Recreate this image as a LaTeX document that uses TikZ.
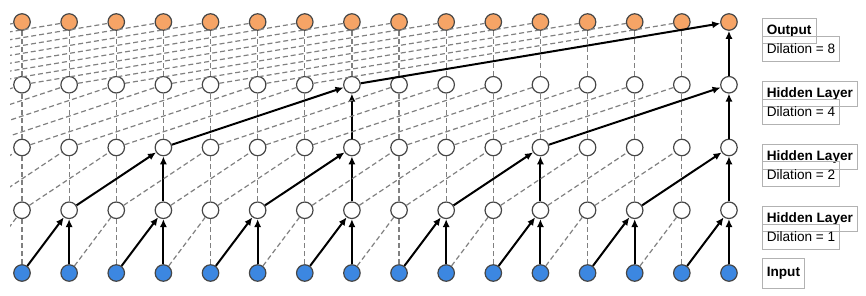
\documentclass[tikz,border=0pt]{standalone}
\usepackage{fontspec}
\setmainfont{Liberation Sans}
\usepackage{tikz}
\usetikzlibrary{arrows.meta, positioning}

\definecolor{outorange}{RGB}{246,164,102}
\definecolor{inblue}{RGB}{60,135,225}
\definecolor{rimgray}{RGB}{70,70,70}

\begin{document}
\begin{tikzpicture}[
    x=0.5pt, y=-0.5pt,
    unit/.style={circle, draw=rimgray, line width=0.6pt, minimum size=8.25pt, inner sep=0pt, fill=white},
    inunit/.style={unit, fill=inblue},
    outunit/.style={unit, fill=outorange},
    link/.style={gray, line width=0.6pt, dash pattern=on 2.5pt off 1.5pt},
    arrow/.style={-{Latex[length=4pt, width=3.6pt]}, line width=1pt},
    tag/.style={rectangle, draw=gray!60, inner xsep=2.3pt, inner ysep=0pt, minimum height=12.5pt, font=\fontsize{6.8}{8}\selectfont},
    headtag/.style={tag, font=\fontsize{6.8}{8}\selectfont\bfseries}
]
\useasboundingbox (0,0) rectangle (866,295);
% units, columns below 0 are only coordinates off the left edge
\foreach \rowname/\lay/\kind in {in/0/inunit, h1/1/unit, h2/2/unit, h3/3/unit, out/4/outunit} {
  \foreach \col in {-8,...,15} {
    \pgfmathsetmacro{\ux}{22+47.13*\col}
    \pgfmathsetmacro{\uy}{273-62.75*\lay}
    \ifnum\col<0
      \coordinate (\rowname-\col) at (\ux,\uy);
    \else
      \node[\kind] (\rowname-\col) at (\ux,\uy) {};
    \fi
  }
}
% connections, solid where they feed out-15
\begin{scope}
\clip (10,0) rectangle (866,295);
\foreach \low/\up/\dil in {in/h1/1, h1/h2/2, h2/h3/4, h3/out/8} {
  \foreach \col in {0,...,15} {
    \pgfmathtruncatemacro{\src}{\col-\dil}
    \pgfmathtruncatemacro{\hit}{mod(\col+1,2*\dil)}
    \ifnum\hit=0
      \draw[arrow] (\low-\src) -- (\up-\col);
      \draw[arrow] (\low-\col) -- (\up-\col);
    \else
      \draw[link] (\low-\src) -- (\up-\col);
      \draw[link] (\low-\col) -- (\up-\col);
    \fi
  }
}
\end{scope}
% layer tags
\node[headtag, right=12pt of out-15, yshift=-4.5pt] (outname) {Output};
\node[tag, below right=-4pt and 0pt of outname.south west] (outdil) {Dilation = 8};
\node[headtag, right=12pt of h3-15, yshift=-4.5pt] (h3name) {Hidden Layer};
\node[tag, below right=-4pt and 0pt of h3name.south west] (h3dil) {Dilation = 4};
\node[headtag, right=12pt of h2-15, yshift=-4.5pt] (h2name) {Hidden Layer};
\node[tag, below right=-4pt and 0pt of h2name.south west] (h2dil) {Dilation = 2};
\node[headtag, right=12pt of h1-15, yshift=-4.5pt] (h1name) {Hidden Layer};
\node[tag, below right=-4pt and 0pt of h1name.south west] (h1dil) {Dilation = 1};
\node[headtag, minimum height=15pt, right=12pt of in-15] (inname) {Input};
\end{tikzpicture}
\end{document}
